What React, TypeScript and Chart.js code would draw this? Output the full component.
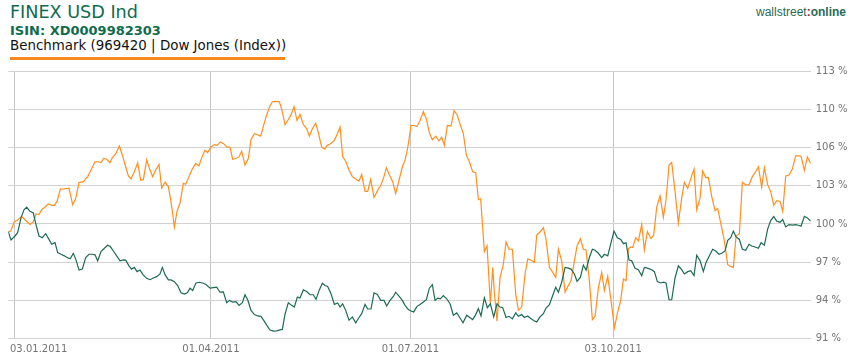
import React, { useEffect, useRef } from 'react';
import { Chart, registerables } from 'chart.js';

Chart.register(...registerables);

// trading-day index (0 = 30.12.2010) at which date ticks are drawn
const xTickDays = [2, 66, 131, 197];
const xTickLabels = ['03.01.2011', '01.04.2011', '01.07.2011', '03.10.2011'];
const yTickLabels = ['91 %', '94 %', '97 %', '100 %', '103 %', '106 %', '110 %', '113 %'];
const yMin = 91;
const yMax = 113;

// [trading-day index, percent]
const finexPoints: [number, number][] = [
  [0, 99.79], [0.77, 99.84], [1.97, 100.6], [3.27, 100.79], [4.35, 101.03], [5.66, 100.71], [7.07, 100.38], [8.15, 100.6],
  [9.02, 101.25], [10.0, 101.2], [10.87, 101.6], [11.95, 101.82], [13.04, 102.07], [14.13, 101.96], [14.99, 101.96], [15.86, 102.28],
  [16.95, 103.29], [18.25, 103.31], [19.77, 103.37], [20.97, 102.01], [21.94, 102.5], [23.03, 103.83], [24.44, 103.91], [25.85, 104.32],
  [26.94, 104.86], [28.24, 105.54], [29.33, 105.54], [30.2, 105.48], [31.06, 105.81], [32.04, 105.75], [33.13, 105.46], [33.89, 105.89],
  [35.08, 106.22], [36.17, 106.84], [37.14, 106.08], [38.23, 105.13], [39.1, 104.37], [39.97, 104.13], [41.05, 104.72], [42.14, 105.46],
  [43.12, 104.02], [43.99, 104.07], [45.07, 105.7], [45.94, 105.0], [47.03, 104.32], [48.0, 104.86], [49.09, 105.32], [49.96, 103.37],
  [51.05, 103.86], [52.13, 103.5], [52.78, 102.55], [53.43, 101.47], [54.08, 100.17], [54.95, 101.47], [55.93, 102.15], [57.01, 103.77],
  [57.77, 103.69], [58.86, 104.32], [59.94, 104.94], [61.03, 105.4], [62.11, 105.21], [62.98, 105.86], [64.07, 106.49], [64.94, 106.3],
  [66.02, 106.76], [67.11, 106.95], [67.98, 106.89], [69.06, 107.17], [70.15, 107.03], [71.13, 106.76], [72.21, 106.73], [73.08, 105.75],
  [74.17, 105.81], [75.14, 105.94], [76.01, 106.41], [77.1, 105.27], [78.18, 105.81], [79.05, 107.38], [80.14, 107.84], [81.22, 107.76],
  [82.2, 107.65], [83.29, 108.66], [84.16, 109.39], [85.13, 110.07], [86.0, 110.47], [87.09, 110.5], [88.28, 110.47], [89.04, 109.88],
  [90.13, 108.58], [91.0, 108.93], [92.08, 109.39], [93.06, 110.07], [94.04, 108.93], [95.01, 109.44], [96.1, 108.6], [97.19, 108.25],
  [98.05, 107.65], [99.03, 108.25], [100.12, 108.71], [100.99, 107.92], [102.07, 106.76], [102.94, 106.57], [103.92, 106.89], [104.79, 107.0],
  [106.2, 107.3], [107.18, 107.84], [108.05, 108.39], [108.91, 105.94], [109.89, 105.59], [110.98, 104.86], [112.06, 104.32], [113.15, 104.13],
  [114.23, 103.96], [115.1, 104.51], [116.19, 103.1], [117.06, 103.1], [118.03, 104.1], [119.12, 102.61], [120.21, 103.15], [121.29, 103.59],
  [122.27, 104.24], [123.14, 105.05], [124.12, 104.45], [125.2, 103.91], [126.18, 102.93], [127.26, 104.02], [128.35, 105.13], [129.22, 105.67],
  [130.09, 106.68], [131.17, 108.52], [132.15, 108.52], [133.13, 108.44], [134.1, 108.93], [135.19, 109.66], [136.17, 109.06], [137.14, 107.92],
  [138.12, 107.35], [139.21, 107.65], [140.29, 107.25], [141.16, 107.57], [142.03, 106.89], [143.01, 108.52], [144.2, 108.47], [145.18, 109.74],
  [146.16, 109.42], [147.13, 108.66], [148.22, 107.84], [149.2, 106.08], [150.17, 105.54], [151.26, 104.72], [152.24, 104.64], [153.11, 102.42],
  [153.86, 102.5], [155.06, 98.16], [155.93, 98.62], [157.02, 93.87], [157.8, 96.86], [158.3, 94.8], [159.19, 92.44], [160.17, 96.04],
  [161.25, 97.13], [162.12, 98.95], [163.1, 98.35], [164.18, 98.35], [165.27, 94.69], [166.14, 93.33], [167.22, 93.6], [168.31, 96.32],
  [169.18, 97.54], [170.26, 97.46], [171.35, 97.27], [172.11, 99.52], [173.2, 99.79], [174.28, 100.11], [175.15, 99.16], [176.24, 96.86],
  [177.32, 96.45], [178.3, 96.04], [179.17, 98.35], [180.25, 97.4], [181.34, 94.82], [182.42, 95.37], [183.29, 95.77], [184.38, 97.4],
  [185.25, 98.62], [186.33, 99.22], [187.31, 98.35], [188.18, 98.3], [189.26, 95.77], [190.24, 92.57], [191.11, 92.84], [192.2, 95.18],
  [193.28, 96.45], [194.15, 94.96], [195.24, 96.13], [196.32, 94.15], [197.41, 91.9], [198.49, 93.2], [199.47, 94.15], [200.34, 95.91],
  [201.21, 95.77], [201.97, 98.4], [202.73, 98.54], [203.38, 98.49], [204.36, 99.3], [205.23, 99.03], [206.31, 100.38], [207.18, 98.3],
  [208.16, 99.79], [209.34, 99.22], [210.21, 99.52], [211.19, 101.79], [212.28, 102.74], [213.36, 100.98], [214.23, 102.42], [215.21, 105.27],
  [216.08, 105.48], [217.16, 103.1], [218.25, 100.52], [219.33, 102.55], [220.2, 103.86], [221.29, 103.37], [222.27, 104.13], [223.35, 104.94],
  [224.22, 101.6], [225.31, 102.55], [226.17, 104.78], [227.15, 104.24], [228.02, 104.26], [229.11, 102.69], [230.19, 101.52], [231.06, 101.69],
  [232.15, 100.38], [233.23, 99.03], [234.32, 97.08], [235.29, 96.94], [236.16, 96.86], [237.03, 99.44], [238.12, 99.63], [239.09, 103.86],
  [240.18, 103.64], [241.27, 103.64], [242.35, 104.32], [243.22, 104.64], [244.31, 105.13], [245.39, 103.45], [246.26, 105.05], [247.35, 103.64],
  [248.32, 103.1], [249.3, 101.96], [250.28, 102.34], [251.36, 102.28], [252.23, 101.47], [253.21, 104.37], [254.3, 104.45], [255.38, 104.94],
  [256.47, 106.03], [257.55, 106.03], [258.2, 106.0], [259.29, 104.83], [260.27, 105.94], [261.35, 105.4],
];

const dowPoints: [number, number][] = [
  [0, 99.79], [0.88, 99.11], [1.97, 99.38], [3.05, 99.71], [4.14, 100.93], [5.11, 101.6], [5.98, 101.82], [7.07, 101.47],
  [8.15, 101.33], [9.02, 100.38], [10.0, 99.44], [11.09, 99.3], [12.17, 99.63], [13.26, 99.16], [14.13, 98.76], [15.21, 98.89],
  [16.08, 98.08], [17.17, 97.94], [18.25, 97.81], [19.56, 97.62], [20.21, 97.59], [21.18, 98.02], [22.05, 97.48], [23.03, 96.64],
  [24.12, 96.72], [25.21, 97.67], [26.29, 97.94], [27.38, 97.94], [28.24, 97.89], [29.11, 97.4], [30.2, 98.16], [31.28, 98.43],
  [32.37, 98.68], [33.24, 98.57], [34.21, 98.21], [35.3, 97.81], [36.38, 97.4], [37.47, 97.48], [38.23, 97.46], [39.31, 96.99],
  [40.18, 96.72], [41.05, 96.86], [41.92, 96.51], [42.9, 96.64], [43.99, 96.23], [45.07, 95.96], [46.16, 95.85], [47.24, 95.99],
  [48.33, 96.1], [49.41, 96.32], [50.17, 96.86], [51.05, 96.26], [52.13, 95.83], [52.99, 95.83], [54.08, 95.69], [55.17, 95.37],
  [56.25, 94.77], [57.34, 94.66], [58.31, 94.77], [59.18, 95.15], [60.05, 94.96], [61.14, 95.58], [62.22, 95.64], [63.31, 95.58],
  [64.4, 95.45], [65.7, 95.15], [66.78, 95.2], [67.87, 95.23], [68.96, 94.82], [70.04, 94.85], [71.13, 93.96], [72.0, 94.15],
  [73.08, 94.01], [74.17, 94.04], [75.14, 93.74], [76.23, 93.96], [77.1, 94.61], [77.97, 94.2], [79.05, 93.33], [80.14, 92.98],
  [81.22, 92.87], [82.31, 92.84], [83.29, 92.47], [84.37, 92.03], [85.24, 91.71], [86.33, 91.62], [87.41, 91.65], [88.5, 91.73],
  [89.26, 91.76], [90.13, 93.01], [91.21, 93.96], [92.3, 93.74], [93.17, 93.6], [94.15, 94.42], [95.01, 94.34], [96.1, 95.01],
  [97.19, 94.88], [98.27, 94.61], [99.36, 94.61], [100.23, 94.23], [101.31, 95.01], [102.29, 95.56], [103.16, 95.37], [104.03, 95.29],
  [105.11, 94.69], [106.2, 93.82], [107.29, 93.93], [108.05, 93.6], [108.91, 93.87], [109.89, 93.33], [110.98, 92.52], [112.06, 92.79],
  [113.15, 92.3], [114.02, 92.66], [115.1, 93.06], [116.19, 93.82], [117.06, 93.44], [118.14, 93.44], [119.12, 94.77], [120.21, 94.63],
  [121.29, 94.15], [122.38, 94.15], [123.25, 93.69], [124.33, 94.15], [125.42, 94.47], [126.18, 94.82], [127.26, 94.5], [128.35, 94.15],
  [129.22, 93.74], [130.3, 93.39], [131.17, 93.28], [132.04, 93.2], [133.13, 93.66], [134.1, 93.82], [135.19, 94.01], [136.17, 94.2],
  [137.14, 95.15], [138.12, 95.45], [138.99, 94.15], [139.86, 94.34], [140.73, 94.28], [141.71, 94.55], [142.79, 94.28], [143.88, 93.87],
  [144.96, 92.93], [146.05, 93.12], [147.02, 92.74], [148.11, 92.3], [149.31, 92.93], [150.28, 92.74], [151.26, 92.57], [152.24, 92.98],
  [153.11, 93.47], [153.97, 92.87], [155.06, 94.36], [156.04, 93.55], [157.02, 93.87], [158.1, 92.79], [159.19, 93.87], [160.17, 93.6],
  [161.03, 93.55], [162.12, 92.74], [163.1, 92.84], [164.18, 92.63], [165.27, 93.12], [166.14, 92.84], [167.22, 92.98], [168.09, 92.74],
  [169.18, 92.87], [170.16, 92.66], [171.24, 92.47], [172.11, 92.38], [173.2, 92.79], [174.28, 93.06], [175.15, 93.52], [176.24, 93.79],
  [177.32, 94.55], [178.3, 95.23], [179.17, 94.82], [180.25, 95.64], [181.34, 96.86], [182.42, 96.8], [183.29, 96.72], [184.38, 96.32],
  [185.25, 95.72], [186.33, 96.04], [187.31, 97.05], [188.18, 96.64], [189.26, 97.67], [190.24, 98.35], [191.11, 98.27], [192.2, 98.02],
  [193.28, 97.67], [194.15, 97.94], [195.24, 97.81], [196.32, 98.89], [197.3, 99.84], [198.39, 99.3], [199.47, 99.16], [200.34, 98.81],
  [201.21, 98.89], [202.19, 97.46], [203.05, 97.4], [204.14, 96.78], [205.23, 96.67], [206.31, 96.18], [207.18, 96.86], [208.16, 96.8],
  [209.56, 96.67], [210.43, 96.51], [211.41, 95.69], [212.49, 95.58], [213.36, 95.64], [214.23, 95.58], [215.21, 94.2], [216.08, 94.2],
  [217.16, 95.99], [218.25, 96.99], [219.33, 96.67], [220.2, 96.32], [221.29, 96.51], [222.27, 96.59], [223.35, 96.18], [224.22, 97.86],
  [225.31, 97.4], [226.39, 96.53], [227.26, 97.27], [228.35, 97.81], [229.43, 98.35], [230.41, 98.21], [231.49, 97.94], [232.36, 98.02],
  [233.45, 98.21], [234.32, 99.08], [235.29, 99.3], [236.16, 99.84], [237.03, 99.38], [238.12, 99.16], [239.09, 98.35], [240.18, 98.27],
  [241.27, 98.76], [242.13, 98.62], [243.22, 98.54], [244.31, 98.43], [245.18, 98.89], [246.26, 98.68], [247.35, 100.03], [248.32, 100.71],
  [249.3, 101.04], [250.28, 100.66], [251.36, 100.57], [252.23, 100.79], [253.21, 100.19], [254.3, 100.38], [255.38, 100.33], [256.47, 100.38],
  [257.55, 100.3], [258.2, 100.25], [259.29, 101.06], [260.27, 100.93], [261.35, 100.66],
];

const ORANGE = '#ff8f1f';
const GREEN = '#1d6a52';
const HEAD_GREEN = '#106b4e';
const LABEL_GRAY = '#747474';

const xLabelPlugin = {
  id: 'xDateLabels',
  afterDraw(chart: any) {
    const { ctx, chartArea, scales } = chart;
    ctx.save();
    ctx.font = '10px "DejaVu Sans"';
    ctx.fillStyle = LABEL_GRAY;
    ctx.textBaseline = 'middle';
    ctx.textAlign = 'left';
    xTickDays.forEach((d, i) => {
      const label = xTickLabels[i];
      const w = ctx.measureText(label).width;
      const cx = scales.x.getPixelForValue(d);
      const left = Math.max(cx - w / 2, chartArea.left + 1.7);
      ctx.fillText(label, left, chartArea.bottom + 10.5);
    });
    ctx.restore();
  },
};

function PerfChart() {
  const ref = useRef<HTMLCanvasElement | null>(null);
  useEffect(() => {
    if (!ref.current) return;
    const xMax = Math.max(
      finexPoints[finexPoints.length - 1][0],
      dowPoints[dowPoints.length - 1][0]
    );
    const chart = new Chart(ref.current, {
      type: 'line',
      data: {
        datasets: [
          {
            label: 'Dow Jones',
            data: dowPoints.map(([x, y]) => ({ x, y })),
            borderColor: GREEN,
            borderWidth: 1.2,
            pointRadius: 0,
            tension: 0,
            fill: false,
          },
          {
            label: 'FINEX USD Ind',
            data: finexPoints.map(([x, y]) => ({ x, y })),
            borderColor: ORANGE,
            borderWidth: 1.2,
            pointRadius: 0,
            tension: 0,
            fill: false,
          },
        ],
      },
      options: {
        animation: false,
        responsive: false,
        maintainAspectRatio: false,
        events: [],
        layout: { padding: { left: 8.3, top: 8.3, right: 0, bottom: 0 } },
        plugins: { legend: { display: false }, tooltip: { enabled: false } },
        scales: {
          x: {
            type: 'linear',
            min: 0,
            max: xMax,
            afterBuildTicks: (s: any) => {
              s.ticks = xTickDays.map((v) => ({ value: v }));
            },
            ticks: { display: false },
            grid: { color: '#c4c4c4', drawTicks: false, lineWidth: 1 },
            border: { display: false },
            afterFit: (s: any) => {
              s.height = 21.3;
            },
          },
          y: {
            position: 'right',
            min: yMin,
            max: yMax,
            afterBuildTicks: (s: any) => {
              s.ticks = yTickLabels.map((_, i) => ({
                value: yMin + (i * (yMax - yMin)) / (yTickLabels.length - 1),
              }));
            },
            ticks: {
              autoSkip: false,
              callback: (_v: any, i: number) => yTickLabels[i],
              color: LABEL_GRAY,
              font: { family: 'DejaVu Sans', size: 10 },
              padding: 5,
            },
            grid: { color: '#d2d2d2', drawTicks: false, lineWidth: 1 },
            border: { display: false },
            afterFit: (s: any) => {
              s.width = 44.3;
            },
          },
        },
      },
      plugins: [xLabelPlugin],
    });
    return () => chart.destroy();
  }, []);
  return (
    <canvas
      ref={ref}
      width={855}
      height={300}
      style={{ position: 'absolute', left: 0, top: 60, width: 855, height: 300 }}
    />
  );
}

export default function App() {
  return (
    <div
      style={{
        position: 'fixed',
        left: 0,
        top: 0,
        width: 855,
        height: 360,
        background: '#fff',
        overflow: 'hidden',
        fontFamily: '"DejaVu Sans", Verdana, sans-serif',
      }}
    >
      <div style={{ position: 'absolute', left: 10, top: 4.2, fontSize: 17.6, lineHeight: '17.6px', color: HEAD_GREEN, whiteSpace: 'nowrap' }}>
        FINEX USD Ind
      </div>
      <div style={{ position: 'absolute', left: 10, top: 24, fontSize: 13, lineHeight: '13px', fontWeight: 'bold', color: HEAD_GREEN, whiteSpace: 'nowrap' }}>
        ISIN: XD0009982303
      </div>
      <div style={{ position: 'absolute', left: 10, top: 38.8, fontSize: 13.4, lineHeight: '13.4px', color: '#111', whiteSpace: 'nowrap' }}>
        Benchmark (969420 | Dow Jones (Index))
      </div>
      <div style={{ position: 'absolute', left: 10, top: 57, width: 275, height: 3, background: '#f7891e' }} />
      <div
        style={{
          position: 'absolute',
          right: 9,
          top: 5.8,
          fontFamily: '"Liberation Sans", Arial, sans-serif',
          fontSize: 12,
          lineHeight: '12px',
          color: '#2b6b55',
          whiteSpace: 'nowrap',
        }}
      >
        wallstreet<span style={{ color: '#c8102e', fontWeight: 'bold' }}>:</span>
        <span style={{ fontWeight: 'bold' }}>online</span>
      </div>
      <PerfChart />
    </div>
  );
}
